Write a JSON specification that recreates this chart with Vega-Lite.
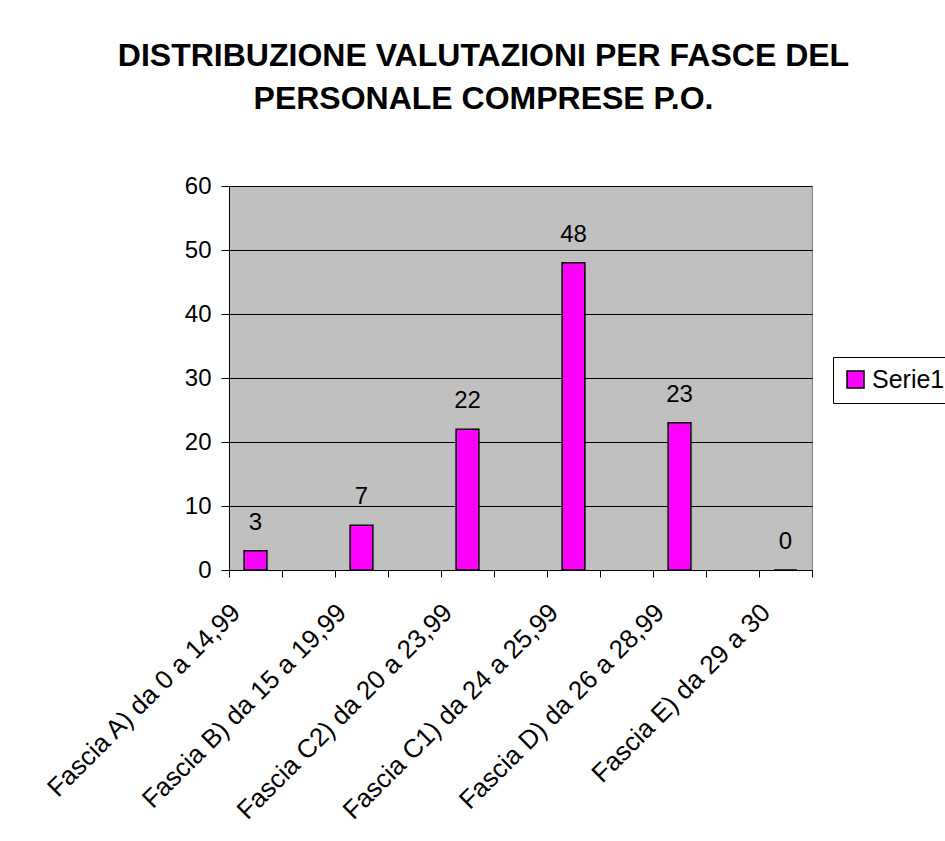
{
  "$schema": "https://vega.github.io/schema/vega-lite/v6.json",
  "width": 583,
  "height": 384,
  "autosize": {"type": "none"},
  "padding": {"left": 229, "top": 186, "right": 133, "bottom": 271},
  "background": "white",
  "config": {
    "font": "Liberation Sans",
    "view": {"fill": "#c0c0c0", "stroke": "#808080", "strokeWidth": 1}
  },
  "title": {
    "text": ["DISTRIBUZIONE VALUTAZIONI PER FASCE DEL", "PERSONALE COMPRESE P.O."],
    "font": "Liberation Sans",
    "fontSize": 32,
    "fontWeight": "bold",
    "lineHeight": 43,
    "color": "black",
    "anchor": "middle",
    "frame": "group",
    "dx": -37,
    "offset": 26,
    "baseline": "bottom"
  },
  "data": {
    "values": [
      {"fascia": "Fascia A) da 0  a 14,99", "valore": 3, "serie": "Serie1"},
      {"fascia": "Fascia B) da 15 a 19,99", "valore": 7, "serie": "Serie1"},
      {"fascia": "Fascia C2) da 20 a 23,99", "valore": 22, "serie": "Serie1"},
      {"fascia": "Fascia C1) da 24 a 25,99", "valore": 48, "serie": "Serie1"},
      {"fascia": "Fascia D) da 26 a 28,99", "valore": 23, "serie": "Serie1"},
      {"fascia": "Fascia E) da 29 a 30", "valore": 0, "serie": "Serie1"}
    ]
  },
  "encoding": {
    "x": {
      "field": "fascia",
      "type": "nominal",
      "title": null,
      "scale": {
        "domain": [
          "Fascia A) da 0  a 14,99", " ",
          "Fascia B) da 15 a 19,99", "  ",
          "Fascia C2) da 20 a 23,99", "   ",
          "Fascia C1) da 24 a 25,99", "    ",
          "Fascia D) da 26 a 28,99", "     ",
          "Fascia E) da 29 a 30"
        ],
        "paddingInner": 0,
        "paddingOuter": 0
      },
      "axis": {
        "labelAngle": -45,
        "labelFontSize": 26,
        "labelColor": "black",
        "labelFont": "Liberation Sans",
        "labelOverlap": false,
        "labelLimit": 0,
        "labelOffset": -29,
        "labelPadding": 22,
        "tickBand": "extent",
        "tickSize": 7,
        "tickColor": "black",
        "domainColor": "black",
        "grid": false
      }
    },
    "y": {
      "field": "valore",
      "type": "quantitative",
      "title": null,
      "scale": {"domain": [0, 60], "nice": false},
      "axis": {
        "values": [0, 10, 20, 30, 40, 50, 60],
        "labelFontSize": 24,
        "labelColor": "black",
        "labelFont": "Liberation Sans",
        "labelPadding": 10,
        "tickSize": 8,
        "tickColor": "black",
        "domainColor": "black",
        "grid": true,
        "gridColor": "black",
        "gridWidth": 1,
        "gridOpacity": 1
      }
    }
  },
  "layer": [
    {
      "mark": {"type": "bar", "width": {"band": 0.43}, "stroke": "black", "strokeWidth": 1.5},
      "encoding": {
        "color": {
          "field": "serie",
          "type": "nominal",
          "scale": {"range": ["#ff00ff"]},
          "legend": {
            "title": null,
            "orient": "none",
            "legendX": 604,
            "legendY": 171,
            "strokeColor": "black",
            "padding": 10,
            "fillColor": "white",
            "symbolType": "square",
            "symbolSize": 289,
            "symbolStrokeColor": "black",
            "symbolStrokeWidth": 1.5,
            "symbolOpacity": 1,
            "labelFontSize": 25,
            "labelFont": "Liberation Sans",
            "labelColor": "black",
            "labelOffset": 4
          }
        }
      }
    },
    {
      "mark": {"type": "text", "fontSize": 24, "font": "Liberation Sans", "color": "black", "dy": -21, "baseline": "alphabetic"},
      "encoding": {
        "text": {"field": "valore", "type": "quantitative"}
      }
    }
  ]
}
